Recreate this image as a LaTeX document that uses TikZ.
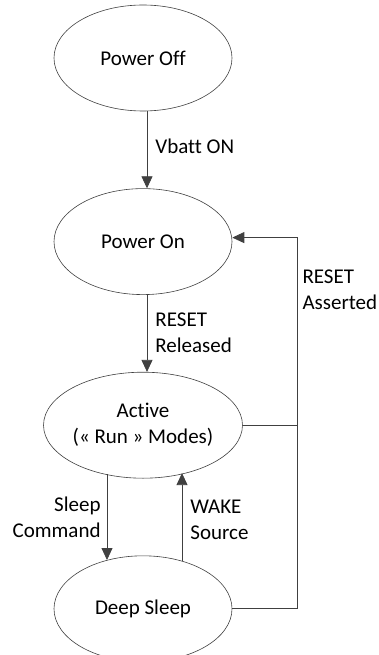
\documentclass[tikz,border=0pt]{standalone}
\usepackage{fontspec}
\setmainfont{Carlito}[Ligatures=CommonOff]
\definecolor{edgegray}{RGB}{64,64,64}
\usetikzlibrary{
  shapes.geometric, % ellipse states
  arrows.meta,      % filled triangle tips
  positioning       % below of node
}
\tikzset{
  node distance=77pt,
  every node/.append style = {font=\fontsize{21}{26}\selectfont},
  state/.style = {
    ellipse,
    draw=edgegray,
    line width=0.6pt,
    minimum width=178pt,
    minimum height=106pt,
    inner sep=0pt,
    align=center
  },
  trans/.style = {draw=edgegray, line width=0.8pt, -{Triangle[width=11pt,length=12pt]}},
  wire/.style = {draw=edgegray, line width=0.8pt},
  lbl/.style = {inner sep=0pt, align=left}
}

\begin{document}
\begin{tikzpicture}
\useasboundingbox (0,0) rectangle (379pt,-655pt);

% states
\node[state] (off) at (143pt,-58pt) {Power Off};
\node[state, below=of off] (on) {Power On};
\node[state, below=of on] (act) {Active\\(« Run » Modes)};
\node[state, below=of act] (deep) {Deep Sleep};
\coordinate (rail) at ([xshift=65pt,yshift=4pt]on.east);

% transitions
\draw[trans] ([xshift=4pt]off.south) -- node[lbl, right=8pt, pos=0.45] {Vbatt ON} ([xshift=4pt]on.north);
\draw[trans] ([xshift=4pt]on.south) -- node[lbl, right=8pt, pos=0.49] {RESET\\Released} ([xshift=4pt]act.north);
\draw[trans] ([xshift=-36pt,yshift=4.5pt]act.south) -- node[lbl, left=6pt, align=right] {Sleep\\Command} ([xshift=-36pt,yshift=-4.5pt]deep.north);
\draw[trans] ([xshift=39pt,yshift=-5.4pt]deep.north) -- node[lbl, right=8pt, pos=0.47] {WAKE\\Source} ([xshift=39pt,yshift=5.4pt]act.south);

% reset rail
\draw[trans] (deep.east) -| (rail) -- ([yshift=4pt]on.east);
\draw[wire] (act.east) -- (act.east -| rail);
\path (rail) -- (act.east -| rail) node[lbl, right=5pt, pos=0.28] {RESET\\Asserted};
\end{tikzpicture}
\end{document}
